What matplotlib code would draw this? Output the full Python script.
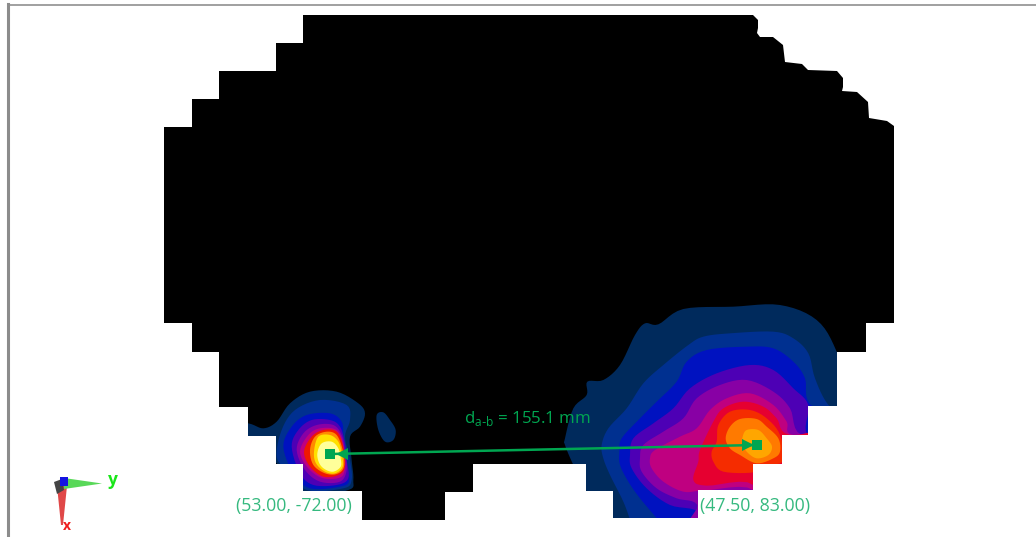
import numpy as np
import matplotlib
matplotlib.use("Agg")
import matplotlib.pyplot as plt
from matplotlib.patches import Polygon

plt.rcParams['font.family'] = ['Open Sans', 'DejaVu Sans']

silhouette = [(303,15),(753,15),(758,20),(758,28),(757,33),(760,37),(773,37),(783,45),(785,62),(802,64),(808,70),
              (837,71),(843,78),(843,87),(842,91),(857,92),(868,102),(869,118),(887,121),(894,126),(894,323),
              (866,323),(866,352),(837,352),(837,406),(808,406),(808,435),(782,435),(782,464),(753,464),(753,490),
              (698,490),(698,518),(613,518),(613,491),(586,491),(586,464),(473,464),(473,492),(445,492),(445,520),
              (362,520),(362,491),(303,491),(303,464),(276,464),(276,436),(248,436),(248,407),(219,407),(219,352),
              (192,352),(192,323),(164,323),(164,127),(192,127),(192,99),(219,99),(219,71),(276,71),(276,43),(303,43)]

level_colors = ['#002a5c','#003090','#0012c0','#4d00b5','#8800a5','#bf0080','#e60030','#f52c00','#ff7a00','#ffa600']
left_colors = ['#002a5c','#003090','#0012c0','#4d00b5','#8800a5','#bf0080','#f01800','#ff8a00','#ffe000','#ffff9a']

right_levels = [
 [(15,430),(40,340),(80,300),(82,260),(130,255),(180,210),(225,120),(255,85),(295,88),(370,42),(520,35),(660,30),(770,75),(830,170),(880,330),(900,720),(170,720),(80,590),(40,510),(15,450)],
 [(125,450),(145,400),(200,340),(250,265),(310,210),(385,150),(430,125),(510,115),(640,110),(700,130),(745,175),(765,250),(805,330),(880,400),(880,720),(300,720),(225,720),(212,680),(190,620),(150,540),(130,490)],
 [(178,470),(185,430),(240,370),(290,320),(350,260),(380,200),(440,165),(560,155),(640,160),(700,200),(735,250),(752,330),(880,400),(880,720),(400,720),(320,720),(300,690),(290,670),(240,610),(205,560),(180,510)],
 [(210,480),(220,430),(280,385),(340,340),(390,280),(470,235),(570,210),(640,225),(700,280),(745,330),(745,420),(880,420),(880,720),(412,720),(412,650),(330,630),(260,580),(215,520)],
 [(240,490),(250,450),(310,410),(370,370),(410,310),(480,270),(560,255),(640,290),(690,340),(725,420),(880,420),(880,720),(412,720),(412,630),(350,610),(290,580),(245,530)],
 [(270,490),(285,465),(360,425),(410,400),(450,345),(500,310),(570,295),(640,330),(680,380),(700,420),(880,420),(880,720),(600,720),(580,585),(430,587),(370,590),(310,560),(275,520)],
 [(400,555),(415,500),(420,465),(460,380),(490,340),(550,320),(610,335),(650,370),(690,420),(880,420),(880,720),(600,720),(580,570),(440,572)],
 [(455,470),(470,440),(475,390),(510,350),(570,345),(620,370),(660,420),(668,500),(590,510),(580,532),(490,530),(460,500)],
 [(497,430),(510,395),(540,372),(590,372),(620,395),(655,430),(660,470),(640,490),(590,505),(540,480),(510,460)],
 [(548,425),(560,405),(595,405),(620,430),(636,455),(625,480),(590,490),(560,470),(548,445)],
]

left_levels = [
 [(-30,120),(55,130),(100,145),(140,125),(180,70),(240,35),(320,35),(385,70),(405,100),(390,140),(360,170),(365,240),(370,300),(355,330),(230,345),(140,250),(55,170),(-30,170)],
 [(140,230),(155,150),(195,90),(270,60),(350,75),(360,120),(345,170),(360,240),(365,300),(340,325),(230,330),(170,270)],
 [(160,200),(185,140),(230,105),(300,100),(335,125),(340,170),(345,240),(358,300),(330,320),(240,325),(190,280)],
 [(185,200),(205,150),(245,120),(300,120),(330,140),(345,190),(350,240),(355,295),(320,315),(250,315),(210,280)],
 [(200,210),(220,160),(260,135),(310,135),(335,165),(345,215),(350,270),(330,305),(270,305),(225,270)],
 [(210,215),(235,165),(270,145),(320,150),(340,195),(345,250),(335,290),(280,295),(235,265)],
 [(222,215),(245,170),(280,150),(320,155),(340,200),(345,260),(325,285),(280,290),(240,260)],
 [(240,210),(255,170),(290,155),(320,165),(338,210),(342,260),(320,282),(285,280),(250,255)],
 [(252,215),(265,170),(300,165),(325,185),(335,220),(338,260),(315,280),(285,275),(258,250)],
 [(262,220),(275,190),(305,185),(325,205),(332,235),(332,260),(310,275),(285,268),(268,250)],
]
left_island = [(440,105),(460,97),(480,120),(497,150),(490,180),(465,185),(445,150)]

point_a = (330, 454)
point_b = (757, 445)
label_a = "(53.00, -72.00)"
label_b = "(47.50, 83.00)"
distance_label = r"d$_{\mathregular{a\text{-}b}}$ = 155.1 mm"


def smooth(points, steps=6):
    # closed curve through every read-off outline point
    p = np.array(points, float)
    t = np.linspace(0, 1, steps, endpoint=False)[:, None]
    out = []
    for i in range(len(p)):
        a, b, c, d = p[i-1], p[i], p[(i+1) % len(p)], p[(i+2) % len(p)]
        out.append(0.5*((2*b) + (c-a)*t + (2*a-5*b+4*c-d)*t**2 + (3*b-a-3*c+d)*t**3))
    return np.vstack(out)


def crop(points, x0, y0):
    return [(x0 + x/3, y0 + y/3) for x, y in points]


fig = plt.figure(figsize=(10.36, 5.37), dpi=100)
ax = fig.add_axes([0, 0, 1, 1])
ax.set_xlim(0, 1036)
ax.set_ylim(537, 0)
ax.axis('off')

ax.plot([1036, 7.5], [4.5, 4.5], color='#a0a0a0', lw=1.4, zorder=1)
ax.plot([7.5, 7.5], [3.5, 537], color='#8c8c8c', lw=2.2, zorder=1)

body = Polygon(silhouette, closed=True, fc='black', ec='none', zorder=2)
ax.add_patch(body)


def fill(points, color, z):
    patch = Polygon(smooth(points), closed=True, fc=color, ec='none', zorder=z)
    ax.add_patch(patch)
    patch.set_clip_path(body)


for i, (pts, c) in enumerate(zip(right_levels, level_colors)):
    fill(crop(pts, 560, 295), c, 3 + i)
for i, (pts, c) in enumerate(zip(left_levels, left_colors)):
    fill(crop(pts, 230, 380), c, 3 + i)
fill(crop(left_island, 230, 380), level_colors[0], 3)

green = '#00a651'
ax.plot([point_a[0], point_b[0]], [point_a[1], point_b[1]], color=green, lw=1.8, zorder=20)
ax.plot(*zip(point_a, point_b), ls='none', marker='s', ms=7.2, color=green, mew=0, zorder=21)
ax.plot([point_a[0] + 12], [point_a[1] - 0.3], ls='none', marker='<', ms=8, color=green, mew=0, zorder=21)
ax.plot([point_b[0] - 9], [point_b[1] + 0.2], ls='none', marker='>', ms=8, color=green, mew=0, zorder=21)

ax.text(527, 419, distance_label, color=green, fontsize=12.2, ha='center', va='center', zorder=22)
ax.text(294, 505.5, label_a, color='#35b97f', fontsize=12.8, ha='center', va='center', zorder=22)
ax.text(755, 505.5, label_b, color='#35b97f', fontsize=12.8, ha='center', va='center', zorder=22)

# orientation triad
ax.add_patch(Polygon([(57,486),(67,486),(63,525),(61,525)], fc='#e04848', ec='none', zorder=5))
ax.add_patch(Polygon([(64,478),(102,483.5),(64,489)], fc='#58d858', ec='none', zorder=6))
ax.add_patch(Polygon([(54,482),(62,479),(64,490),(57,494)], fc='#444444', ec='none', zorder=7))
ax.add_patch(Polygon([(60,477),(68,477),(68,486),(60,486)], fc='#1414e0', ec='none', zorder=8))
ax.text(112.5, 480, 'y', color='#19e619', fontsize=12.5, fontweight='bold', ha='center', va='center', zorder=9)
ax.text(66.5, 526.5, 'x', color='#f01c1c', fontsize=10, fontweight='bold', ha='center', va='center', zorder=9)

fig.savefig('out.png', dpi=100, facecolor='white')
